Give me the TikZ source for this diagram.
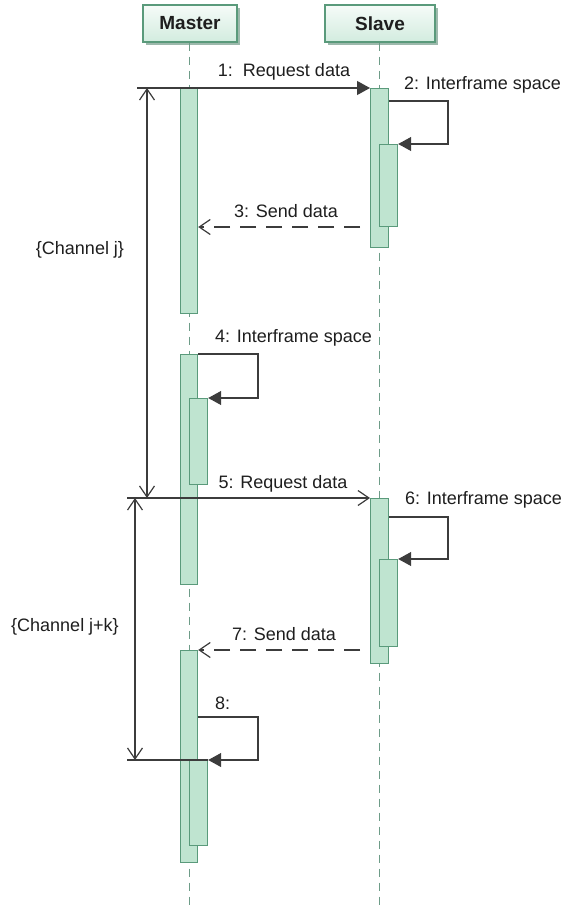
\documentclass[tikz,border=0pt]{standalone}
\usepackage{fontspec}
\setmainfont{Liberation Sans}
\usetikzlibrary{arrows.meta,shadows}

\definecolor{barfill}{HTML}{BFE4D0}
\definecolor{barline}{HTML}{5A9A7B}
\definecolor{lifeline}{HTML}{6E9C88}
\definecolor{wire}{HTML}{3C3C3C}
\definecolor{headtop}{HTML}{F6FBF8}
\definecolor{headbot}{HTML}{D2ECDF}
\definecolor{headshadow}{HTML}{9DB9AC}
\definecolor{ink}{HTML}{1E1E1E}

\begin{document}
\begin{tikzpicture}[x=1pt,y=-1pt,
  every node/.style={font=\fontsize{18}{20}\selectfont, text=ink},
  head/.style={draw=barline, line width=1.2pt, top color=headtop, bottom color=headbot,
    font=\fontsize{19}{21}\selectfont\bfseries, inner sep=0pt,
    drop shadow={shadow xshift=3pt, shadow yshift=-3pt, fill=headshadow, opacity=1}},
  life/.style={draw=lifeline, line width=1pt, dash pattern=on 8pt off 6pt},
  bar/.style={draw=barline, fill=barfill, line width=1.2pt, inner sep=0pt, anchor=north west},
  wire/.style={draw=wire, line width=1.2pt},
  reply/.style={wire, dash pattern=on 16pt off 10pt, dash phase=16pt},
  filled/.style={-{Triangle[length=13pt,width=14pt]}},
  open/.style={-{Straight Barb[length=11pt,width=15pt]}},
  span/.style={wire, {Straight Barb[length=11pt,width=15pt]}-{Straight Barb[length=11pt,width=15pt]}},
  lbl/.style={inner sep=0pt},
]
\useasboundingbox (0,0) rectangle (568,910);

% participants
\node[head, minimum width=94pt, minimum height=37pt] (master) at (190,23.5) {Master};
\node[head, minimum width=110pt, minimum height=37pt] (slave) at (380,23.5) {Slave};

% lifelines
\coordinate (mend) at (189,910);
\coordinate (send) at (379,910);
\draw[life] (master.south -| mend) -- (mend);
\draw[life] (slave.south -| send) -- (send);

% activation bars of Master
\node[bar, minimum width=17pt, minimum height=225pt] (m1) at (180,88) {};
\node[bar, minimum width=17pt, minimum height=230pt] (m2) at (180,354) {};
\node[bar, minimum width=18pt, minimum height=86pt] (m2n) at (189,398) {};
\node[bar, minimum width=17pt, minimum height=212pt] (m3) at (180,650) {};
\node[bar, minimum width=18pt, minimum height=85pt] (m3n) at (189,760) {};

% activation bars of Slave
\node[bar, minimum width=18pt, minimum height=159pt] (s1) at (370,88) {};
\node[bar, minimum width=18pt, minimum height=82pt] (s1n) at (379,144) {};
\node[bar, minimum width=18pt, minimum height=165pt] (s2) at (370,498) {};
\node[bar, minimum width=18pt, minimum height=87pt] (s2n) at (379,559) {};

% channel boundaries
\coordinate (jtop) at (137,88);
\coordinate (jbot) at (127,498);
\coordinate (kbot) at (127,760);
\coordinate (ja) at (147,88);
\coordinate (jb) at (147,498);
\coordinate (ka) at (135,498);
\coordinate (kb) at (135,760);

% 1: request
\draw[wire, filled] (jtop) -- (s1.north west);
\node[lbl] (l1) at (284,72) {1:\ \ Request data};

% 2: interframe space on Slave
\draw[wire, filled] (s1.east |- 0,101) -- (448,101) |- (s1n.north east);
\node[lbl, anchor=west] (l2) at (404,85) {2: Interframe space};

% 3: reply
\draw[reply, open] (s1.west |- 0,227) -- (m1.east |- 0,227);
\node[lbl] (l3) at (286,211) {3: Send data};

% 4: interframe space on Master
\draw[wire, filled] (m2.north east) -- (258,354) |- (m2n.north east);
\node[lbl, anchor=west] (l4) at (215,338) {4: Interframe space};

% 5: request
\draw[wire, open] (jbot) -- (s2.north west);
\node[lbl] (l5) at (283,484) {5: Request data};

% 6: interframe space on Slave
\draw[wire, filled] (s2.east |- 0,517) -- (448,517) |- (s2n.north east);
\node[lbl, anchor=west] (l6) at (405,500) {6: Interframe space};

% 7: reply
\draw[reply, open] (s2.west |- m3.north east) -- (m3.north east);
\node[lbl] (l7) at (284,634) {7: Send data};

% 8: self call on Master
\draw[wire] (kbot) -- (m3n.north east);
\draw[wire, filled] (m3.east |- 0,717) -- (258,717) |- (m3n.north east);
\node[lbl, anchor=west] (l8) at (215,703) {8:};

% channel spans
\draw[span] (ja) -- (jb);
\node[lbl] (cj) at (80,250) {\{Channel j\}};
\draw[span] (ka) -- (kb);
\node[lbl] (ck) at (65,627) {\{Channel j+k\}};
\end{tikzpicture}
\end{document}
